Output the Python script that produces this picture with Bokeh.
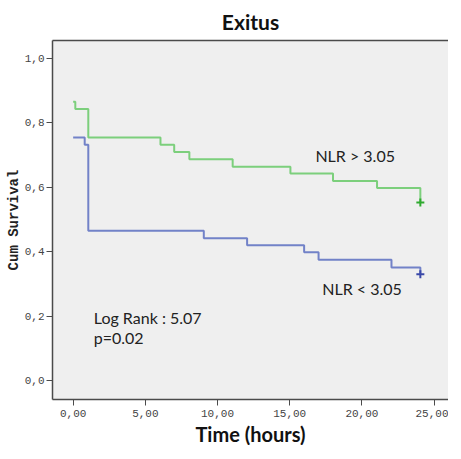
from bokeh.plotting import figure
from bokeh.models import FixedTicker, LinearAxis, Label, Title
from bokeh.embed import file_html
from bokeh.resources import INLINE

# ---- data ----
x_ticks = [0, 5, 10, 15, 20, 25]
x_tick_labels = ["0,00", "5,00", "10,00", "15,00", "20,00", "25,00"]
y_ticks = [0.0, 0.2, 0.4, 0.6, 0.8, 1.0]
y_tick_labels = ["0,0", "0,2", "0,4", "0,6", "0,8", "1,0"]

high_times = [0, 0.15, 1.05, 6.05, 7.0, 8.05, 11.05, 15.05, 18.0, 21.05, 24.05]
high_surv = [0.866, 0.843, 0.755, 0.732, 0.71, 0.687, 0.664, 0.643, 0.62, 0.598, 0.553]
high_censor_t = [24.05]
high_censor_s = [0.553]

low_times = [0, 0.8, 1.05, 9.05, 12.05, 16.0, 17.0, 22.05, 24.05]
low_surv = [0.755, 0.732, 0.465, 0.442, 0.42, 0.398, 0.375, 0.351, 0.33]
low_censor_t = [24.05]
low_censor_s = [0.33]

GREEN = "#7ccf7c"
GREEN_DARK = "#2faa2f"
BLUE = "#7282c8"
BLUE_DARK = "#3a48a8"
AXIS = "#4a4a4a"

p = figure(frame_width=396, frame_height=359, x_range=(-1.43, 26.0), y_range=(-0.059, 1.056),
           output_backend="svg", toolbar_location=None,
           min_border_left=52, min_border_right=0, min_border_top=0, min_border_bottom=0)

p.background_fill_color = "#efefef"
p.border_fill_color = "white"
p.outline_line_color = None
p.grid.visible = False

p.title.text = "Exitus"
p.title.text_font = "Lato"
p.title.text_font_style = "bold"
p.title.text_font_size = "21px"
p.title.align = "center"
p.title.text_color = "#111111"
p.title.standoff = 13

for ax in p.xaxis:
    ax.ticker = FixedTicker(ticks=x_ticks)
    ax.major_label_overrides = dict(zip(x_ticks, x_tick_labels))
    ax.major_label_text_font = "Liberation Mono"
    ax.major_label_text_font_size = "11px"
    ax.major_label_text_color = "#444444"
    ax.major_label_standoff = 4
    ax.major_tick_in = 0
    ax.major_tick_out = 6
    ax.minor_tick_out = 0
    ax.minor_tick_in = 0
    ax.axis_line_color = AXIS
    ax.axis_line_width = 1.5
    ax.major_tick_line_color = AXIS

for ax in p.yaxis:
    ax.ticker = FixedTicker(ticks=y_ticks)
    ax.major_label_overrides = dict(zip(y_ticks, y_tick_labels))
    ax.major_label_text_font = "Liberation Mono"
    ax.major_label_text_font_size = "11px"
    ax.major_label_text_color = "#444444"
    ax.major_label_standoff = 2
    ax.major_tick_in = 0
    ax.major_tick_out = 6
    ax.minor_tick_out = 0
    ax.minor_tick_in = 0
    ax.axis_line_color = AXIS
    ax.axis_line_width = 1.5
    ax.major_tick_line_color = AXIS
    ax.axis_label = "Cum Survival"
    ax.axis_label_text_font = "Liberation Mono"
    ax.axis_label_text_font_style = "bold"
    ax.axis_label_text_font_size = "14px"
    ax.axis_label_text_color = "#222222"
    ax.axis_label_standoff = 0

top = LinearAxis(ticker=FixedTicker(ticks=[]), major_label_text_font_size="0px",
                 major_tick_out=0, major_tick_in=0, minor_tick_out=0, minor_tick_in=0,
                 axis_line_color=AXIS, axis_line_width=1.5)
p.add_layout(top, "above")

xlab = Title(text="Time (hours)", align="center", offset=18, text_font="Lato",
             text_font_style="bold", text_font_size="20px", text_color="#111111",
             standoff=0, text_line_height=0.8)
p.add_layout(xlab, "below")

p.step(high_times, high_surv, mode="after", line_color=GREEN, line_width=2)
p.step(low_times, low_surv, mode="after", line_color=BLUE, line_width=2)
p.scatter(high_censor_t, high_censor_s, marker="cross", size=8, line_color=GREEN_DARK, line_width=2)
p.scatter(low_censor_t, low_censor_s, marker="cross", size=8, line_color=BLUE_DARK, line_width=2)

for txt, x, y in [("NLR > 3.05", 16.78, 0.698), ("NLR < 3.05", 17.26, 0.286),
                  ("Log Rank : 5.07", 1.43, 0.196), ("p=0.02", 1.43, 0.134)]:
    p.add_layout(Label(x=x, y=y, text=txt, text_font="Lato", text_font_size="16px",
                       text_color="#222222", text_baseline="alphabetic"))

open("out.html", "w").write(file_html(p, INLINE))
